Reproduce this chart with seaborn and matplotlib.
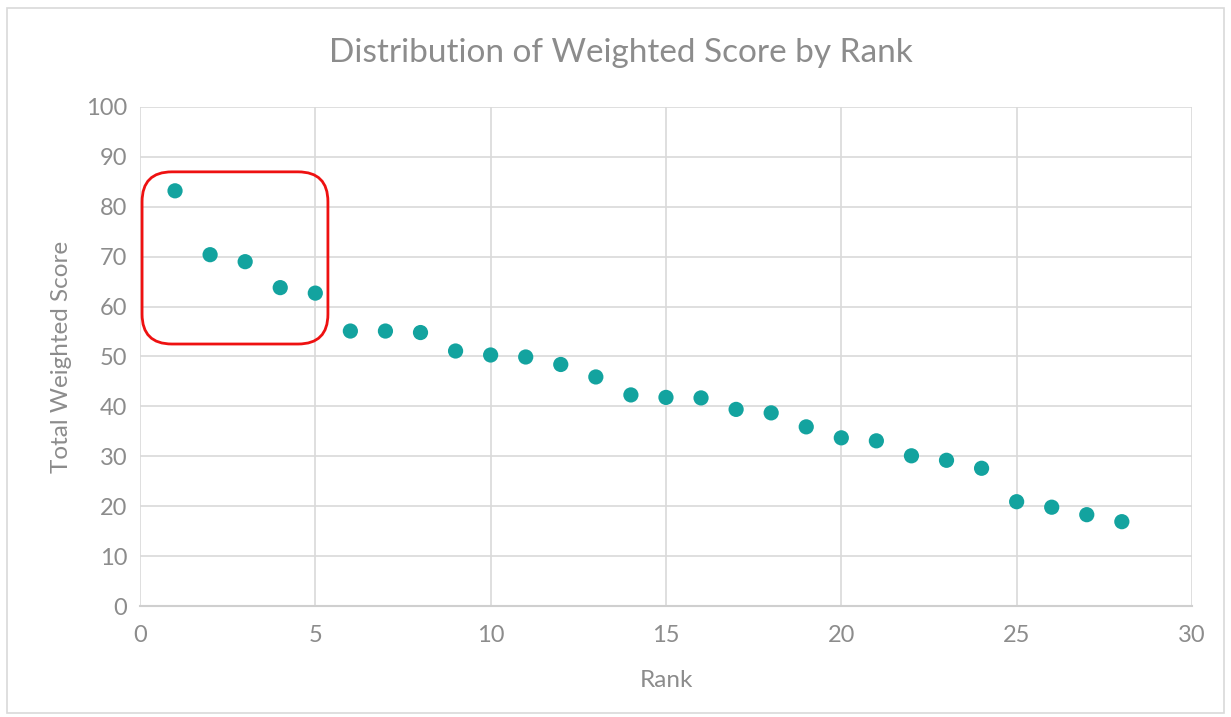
import numpy as np
import pandas as pd
import matplotlib
matplotlib.use("Agg")
import matplotlib.pyplot as plt
import seaborn as sns
from matplotlib.patches import FancyBboxPatch, Rectangle

# Data
rank = list(range(1, 29))
weighted_score = [83.2, 70.4, 69.0, 63.8, 62.7, 55.1, 55.1, 54.8, 51.1, 50.3,
                  49.9, 48.4, 45.9, 42.3, 41.8, 41.7, 39.4, 38.7, 35.9, 33.7,
                  33.1, 30.1, 29.2, 27.6, 20.9, 19.8, 18.3, 16.9]

# Highlight box around the top five (x0, x1, y0, y1 in data units)
box_x = (0.06, 5.36)
box_y = (52.5, 87.0)

df = pd.DataFrame({"Rank": rank, "Score": weighted_score})

sns.set_theme(style="white")
plt.rcParams["font.family"] = ["Lato", "DejaVu Sans"]

grey_txt = "#8c8c8c"
grid_col = "#d9d9d9"
teal = "#13a39f"

fig = plt.figure(figsize=(12.31, 7.17), dpi=100)
ax = fig.add_axes([0.1137, 0.1548, 0.8546, 0.696])

sns.scatterplot(data=df, x="Rank", y="Score", ax=ax, color=teal,
                s=120, edgecolor="none", zorder=3)

ax.set_xlim(0, 30)
ax.set_ylim(0, 100)
ax.set_xticks(range(0, 31, 5))
ax.set_yticks(range(0, 101, 10))
ax.grid(True, color=grid_col, linewidth=1.2)
ax.set_axisbelow(True)
for side in ["top", "left", "right"]:
    ax.spines[side].set_visible(False)
ax.spines["bottom"].set_color("#cfcfcf")
ax.spines["bottom"].set_linewidth(1.5)
ax.tick_params(axis="both", length=0, labelsize=17, labelcolor=grey_txt)
ax.tick_params(axis="x", pad=14)
ax.tick_params(axis="y", pad=9)

ax.set_xlabel("Rank", fontsize=17.5, color=grey_txt, labelpad=17)
ax.set_ylabel("Total Weighted Score", fontsize=17.5, color=grey_txt, labelpad=10)
fig.text(0.504, 0.926, "Distribution of Weighted Score by Rank",
         ha="center", va="center", fontsize=24, color=grey_txt)

# Rounded red box; mutation_aspect corrects for unequal axis scales
px_per_x = ax.transData.transform((1, 0))[0] - ax.transData.transform((0, 0))[0]
px_per_y = ax.transData.transform((0, 1))[1] - ax.transData.transform((0, 0))[1]
aspect = px_per_x / px_per_y
box = FancyBboxPatch((box_x[0], box_y[0]), box_x[1] - box_x[0], box_y[1] - box_y[0],
                     boxstyle="round,pad=0,rounding_size=0.85",
                     mutation_aspect=aspect, fill=False,
                     edgecolor="#ee1111", linewidth=2, zorder=4, clip_on=False)
ax.add_patch(box)

# Light chart border like the original
fig.patches.append(Rectangle((0.006, 0.006), 0.988, 0.983, transform=fig.transFigure,
                             fill=False, edgecolor="#d9d9d9", linewidth=1.2))

fig.savefig("out.png", dpi=100)
